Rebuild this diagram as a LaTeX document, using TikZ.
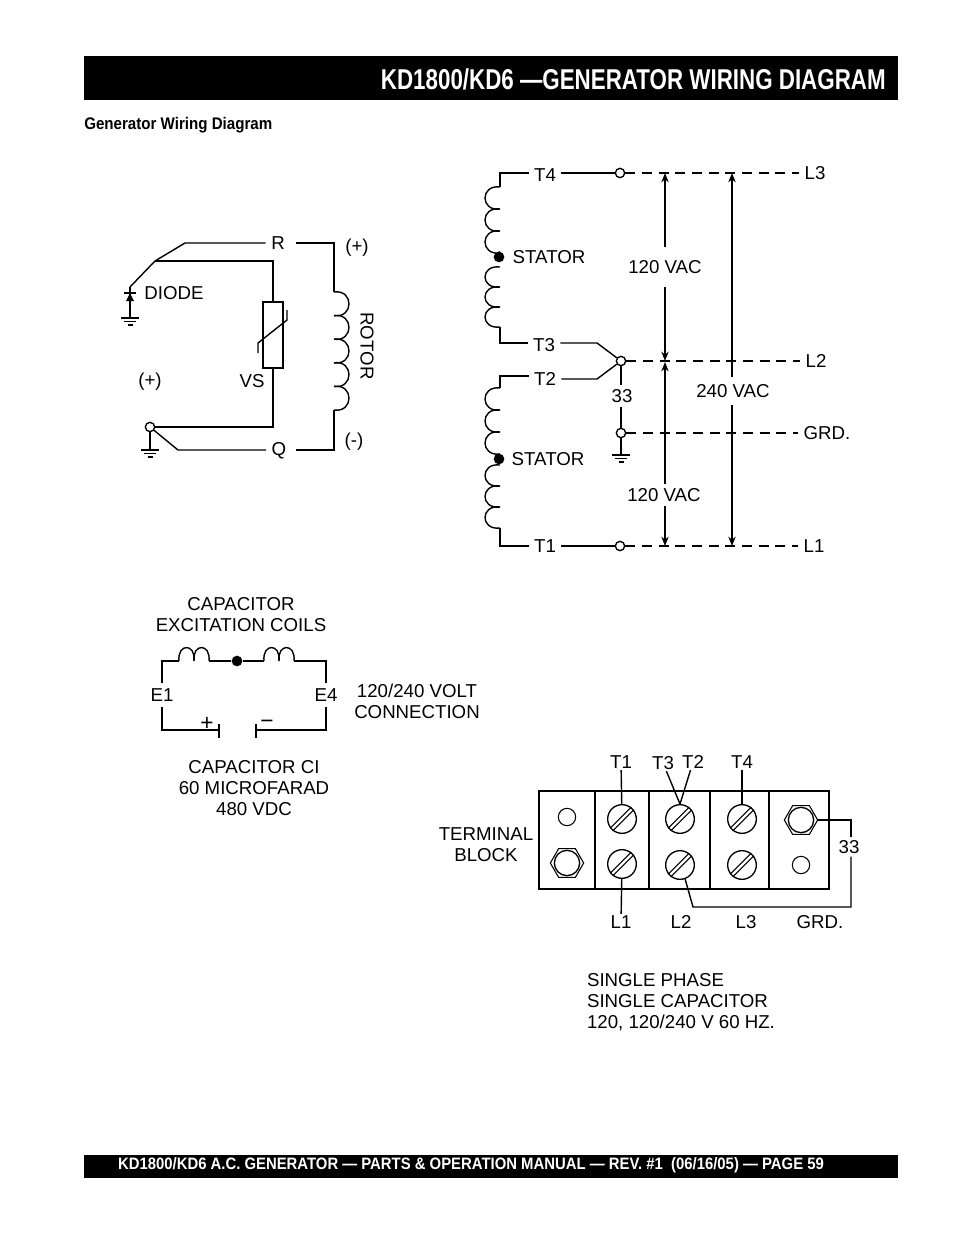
\documentclass[tikz,border=0pt]{standalone}
\usepackage{fontspec}
\setmainfont{Liberation Sans}
\newfontfamily\narrowfont[FakeStretch=0.78]{Liberation Sans}
\newfontfamily\slimfont[FakeStretch=0.9]{Liberation Sans}
\usetikzlibrary{shapes.geometric, arrows.meta, positioning}
\tikzstyle{lbl} = [inner xsep=4pt, inner ysep=1pt, font=\fontsize{14}{15.75}\selectfont, align=center]
\tikzstyle{wire} = [line width=1.05pt, black]
\tikzstyle{dashwire} = [line width=1.05pt, black, dash pattern=on 7.5pt off 5pt]
\tikzstyle{arrow} = [line width=1.05pt,->,>={Stealth[length=7pt,width=5.5pt]}]
\tikzstyle{term} = [circle, draw=black, line width=1pt, fill=white, minimum size=7pt, inner sep=0pt]
\tikzstyle{dot} = [circle, fill=black, minimum size=8pt, inner sep=0pt]
\tikzstyle{screw} = [circle, draw=black, line width=1pt, minimum size=21.5pt, inner sep=0pt]
\tikzstyle{hole} = [circle, draw=black, line width=0.8pt, minimum size=13pt, inner sep=0pt]
\tikzstyle{hex} = [regular polygon, regular polygon sides=6, draw=black, line width=0.8pt, minimum size=25pt, inner sep=0pt]
\tikzstyle{bolt} = [circle, draw=black, line width=1pt, minimum size=19pt, inner sep=0pt]
\tikzstyle{bar} = [fill=black, text=white, inner sep=0pt]
\tikzstyle{signs} = [inner sep=0pt, font=\fontsize{17}{17}\selectfont]
\newcommand{\vcoil}[5]{\foreach \k in {1,...,#3} \draw[wire] (#1,{#2+(\k-1)*#4}) .. controls ({#1+#5},{#2+(\k-1.12)*#4}) and ({#1+#5},{#2+(\k+0.12)*#4}) .. (#1,{#2+\k*#4});}
\newcommand{\hcoil}[4]{\foreach \k in {1,...,#3} \draw[wire] ({#1+(\k-1)*#4},#2) .. controls ({#1+(\k-1.12)*#4},{#2-18}) and ({#1+(\k+0.12)*#4},{#2-18}) .. ({#1+\k*#4},#2);}
\newcommand{\grnd}[2]{\draw[wire] (#1-9,#2) -- (#1+9,#2) (#1-6,#2+3.5) -- (#1+6,#2+3.5) (#1-2.5,#2+7) -- (#1+2.5,#2+7);}
\begin{document}
\begin{tikzpicture}[x=0.75pt, y=-0.75pt]
    \useasboundingbox (0,0) rectangle (954,1235);
    \node (head) [bar, minimum width=610.5pt, minimum height=33pt] at (491,78) {};
    \node (title) [text=white, anchor=east, inner sep=0pt, font=\narrowfont\bfseries\fontsize{21.5}{24}\selectfont] at (886,79) {KD1800/KD6 —GENERATOR WIRING DIAGRAM};
    \node (sub) [anchor=west, inner sep=0pt, font=\slimfont\bfseries\fontsize{12.6}{15}\selectfont] at (84,125) {Generator Wiring Diagram};
    \node (foot) [bar, minimum width=610.5pt, minimum height=17.5pt] at (491,1166.5) {};
    \node (foottext) [text=white, inner sep=0pt, font=\slimfont\bfseries\fontsize{12.4}{14}\selectfont] at (471,1165) {KD1800/KD6 A.C. GENERATOR — PARTS \& OPERATION MANUAL — REV. \#1\ \ (06/16/05) — PAGE 59};

    \node (R) [lbl] at (278,243) {R};
    \node (Q) [lbl] at (279,451) {Q};
    \node (plusR) [lbl] at (357,248) {(+)};
    \node (minusQ) [lbl] at (354,442) {(-)};
    \node (plusT) [lbl] at (150,382) {(+)};
    \node (diodetext) [lbl] at (174,293) {DIODE};
    \node (VS) [lbl] at (252,381) {VS};
    \node (rotortext) [lbl, rotate=-90] at (367,346) {ROTOR};
    \node (vsbox) [draw=black, line width=1pt, minimum width=15pt, minimum height=49.5pt, inner sep=0pt] at (273,335) {};
    \node (termQ) [term] at (150,427) {};
    \coordinate (dtop) at (130,287);
    \coordinate (djoin) at (155,261);
    \coordinate (rbend) at (185,243);
    \coordinate (rcorner) at (334,243);
    \coordinate (qcorner) at (334,450);
    \coordinate (qbend) at (178,450);
    \coordinate (vstop) at (273,261);
    \coordinate (vsbot) at (273,427);
    \draw[wire] (dtop) -- (djoin) -- (rbend) -- (R.west);
    \draw[wire] (R.east) ++(6,0) -- (rcorner) -- (334,292);
    \draw[wire] (djoin) -- (vstop) -- (vsbox.north);
    \draw[wire] (vsbox.south) -- (vsbot) -- (termQ.east);
    \draw[wire] (termQ) -- (qbend) -- (Q.west |- qbend);
    \draw[wire] (Q.east |- qbend) ++(4,0) -- (qcorner) -- (334,410);
    \draw[wire] (258,353) -- (258,343) -- (287,320) -- (287,310);
    \vcoil{334}{292}{5}{23.6}{20}
    \draw[wire] (dtop) -- (130,318);
    \draw[wire] (124,293) -- (136,293);
    \fill (130,293) -- (126,301) -- (134,301) -- cycle;
    \grnd{130}{318}
    \draw[wire] (termQ) -- (150,450);
    \grnd{150}{450}

    \node (T4) [lbl] at (545,175) {T4};
    \node (T3) [lbl] at (544,345) {T3};
    \node (T2) [lbl] at (545,379) {T2};
    \node (T1) [lbl] at (545,546) {T1};
    \node (L3) [lbl] at (815,173) {L3};
    \node (L2) [lbl] at (816,361) {L2};
    \node (GRD) [lbl] at (827,433) {GRD.};
    \node (L1) [lbl] at (814,546) {L1};
    \node (stat1) [lbl] at (549,257) {STATOR};
    \node (stat2) [lbl] at (548,459) {STATOR};
    \node (n33) [lbl, inner ysep=3pt] at (622,396) {33};
    \node (v120a) [lbl, inner ysep=10pt] at (665,267) {120 VAC};
    \node (v120b) [lbl, inner ysep=3pt] at (664,495) {120 VAC};
    \node (v240) [lbl, inner ysep=5pt] at (733,391) {240 VAC};
    \node (dot1) [dot] at (499,257) {};
    \node (dot2) [dot] at (499,459) {};
    \node (c4) [term] at (620,173) {};
    \node (c2) [term] at (621,361) {};
    \node (cg) [term] at (621,433) {};
    \node (c1) [term] at (620,546) {};
    \coordinate (t3bend) at (597,343);
    \coordinate (t2bend) at (597,379);
    \coordinate (t2top) at (500,376);
    \coordinate (a120) at (665,361);
    \coordinate (b120) at (665,362);
    \draw[wire] (500,187) -- (500,173) -- (T4.west |- c4);
    \draw[wire] (T4.east |- c4) -- (c4);
    \draw[wire] (500,327) -- (500,343) -- (T3.west |- t3bend);
    \draw[wire] (T3.east |- t3bend) -- (t3bend) -- (c2);
    \draw[wire] (500,388) -- (t2top) -- (T2.west |- t2top);
    \draw[wire] (T2.east) -- (t2bend) -- (c2);
    \draw[wire] (500,528) -- (500,546) -- (T1.west |- c1);
    \draw[wire] (T1.east |- c1) -- (c1);
    \vcoil{500}{187}{3}{22}{-20}
    \vcoil{500}{267}{3}{20}{-20}
    \vcoil{500}{388}{3}{22}{-20}
    \vcoil{500}{465}{3}{21}{-20}
    \draw[wire] (dot1.north) -- (500,253);
    \draw[wire] (c2) -- (c2 |- n33.north);
    \draw[wire] (c2 |- n33.south) -- (cg);
    \draw[wire] (cg) -- (621,455);
    \grnd{621}{455}
    \draw[dashwire] (c4) -- (L3);
    \draw[dashwire] (c2) -- (L2);
    \draw[dashwire] (cg) -- (GRD);
    \draw[dashwire] (c1) -- (L1);
    \draw[arrow] (v120a) -- (665,173);
    \draw[arrow] (v120a) -- (a120);
    \draw[arrow] (b120 |- v120b.north) -- (b120);
    \draw[arrow] (b120 |- v120b.south) -- (665,546);
    \draw[arrow] (732,377) -- (732,173);
    \draw[arrow] (732,405) -- (732,546);

    \node (capcoil) [lbl] at (241,614.5) {CAPACITOR\\EXCITATION COILS};
    \node (E1) [lbl, inner ysep=4pt] at (162,695) {E1};
    \node (E4) [lbl, inner ysep=4pt] at (326,695) {E4};
    \node (plus) [signs] at (207,724) {+};
    \node (minus) [signs] at (267,724) {−};
    \node (conn) [lbl] at (417,701.5) {120/240 VOLT\\CONNECTION};
    \node (capci) [lbl] at (254,788) {CAPACITOR CI\\60 MICROFARAD\\480 VDC};
    \node (dot3) [dot] at (237,661) {};
    \coordinate (capl) at (219,730);
    \coordinate (capr) at (256,730);
    \draw[wire] (E1.north) -- (162,661) -- (179,661);
    \hcoil{179}{661}{2}{15}
    \draw[wire] (209,661) -- (dot3) -- (264,661);
    \hcoil{264}{661}{2}{15}
    \draw[wire] (294,661) -- (326,661) -- (E4.north);
    \draw[wire] (E1.south) -- (162,730) -- (capl);
    \draw[wire] (capr) -- (326,730) -- (E4.south);
    \draw[wire] (219,724) -- (219,738);
    \draw[wire] (256,724) -- (256,738);

    \node (blockbox) [draw=black, line width=1.1pt, minimum width=217.5pt, minimum height=73.5pt, inner sep=0pt] at (684,840) {};
    \draw[line width=1.6pt] (595,791) -- (595,889);
    \draw[wire] (649,791) -- (649,889);
    \draw[wire] (710,791) -- (710,889);
    \draw[wire] (769,791) -- (769,889);
    \node (hole1) [hole] at (567,817) {};
    \node (hole2) [hole] at (801,865) {};
    \node (hexa) [hex] at (567,863) {};
    \node (hexb) [hex] at (801,820) {};
    \node (bolta) [bolt] at (567,863) {};
    \node (boltb) [bolt] at (801,820) {};
    \node (s1) [screw] at (622,819) {};
    \node (s2) [screw] at (680,819) {};
    \node (s3) [screw] at (742,819) {};
    \node (s4) [screw] at (622,864) {};
    \node (s5) [screw] at (680,865) {};
    \node (s6) [screw] at (742,865) {};
    \foreach \s in {s1,s2,s3,s4,s5,s6}
        \draw[line width=0.8pt] (\s.218) -- (\s.52) (\s.232) -- (\s.38);
    \node (bT1) [lbl] at (621,762) {T1};
    \node (bT3) [lbl] at (663,763) {T3};
    \node (bT2) [lbl] at (693,762) {T2};
    \node (bT4) [lbl] at (742,762) {T4};
    \node (bL1) [lbl] at (621,922) {L1};
    \node (bL2) [lbl] at (681,922) {L2};
    \node (bL3) [lbl] at (746,922) {L3};
    \node (bGRD) [lbl] at (820,922) {GRD.};
    \node (b33) [lbl, inner ysep=2pt] at (849,847) {33};
    \node (blocktext) [lbl] at (486,844.5) {TERMINAL\\BLOCK};
    \node (note) [lbl, align=left, anchor=west] at (581.5,1002) {SINGLE PHASE\\SINGLE CAPACITOR\\120, 120/240 V 60 HZ.};
    \coordinate (l2bend) at (693,907);
    \coordinate (gcorner) at (851,907);
    \coordinate (bcorner) at (851,820);
    \draw[wire] (bT1) -- (s1);
    \draw[wire] (bT3) -- (s2.north);
    \draw[wire] (bT2) -- (s2.north);
    \draw[wire] (bT4) -- (s3);
    \draw[wire] (s4) -- (bL1);
    \draw[wire] (s5.290) -- (l2bend) -- (gcorner) -- (gcorner |- b33.south);
    \draw[wire] (bcorner |- b33.north) -- (bcorner) -- (hexb.east);
\end{tikzpicture}
\end{document}
